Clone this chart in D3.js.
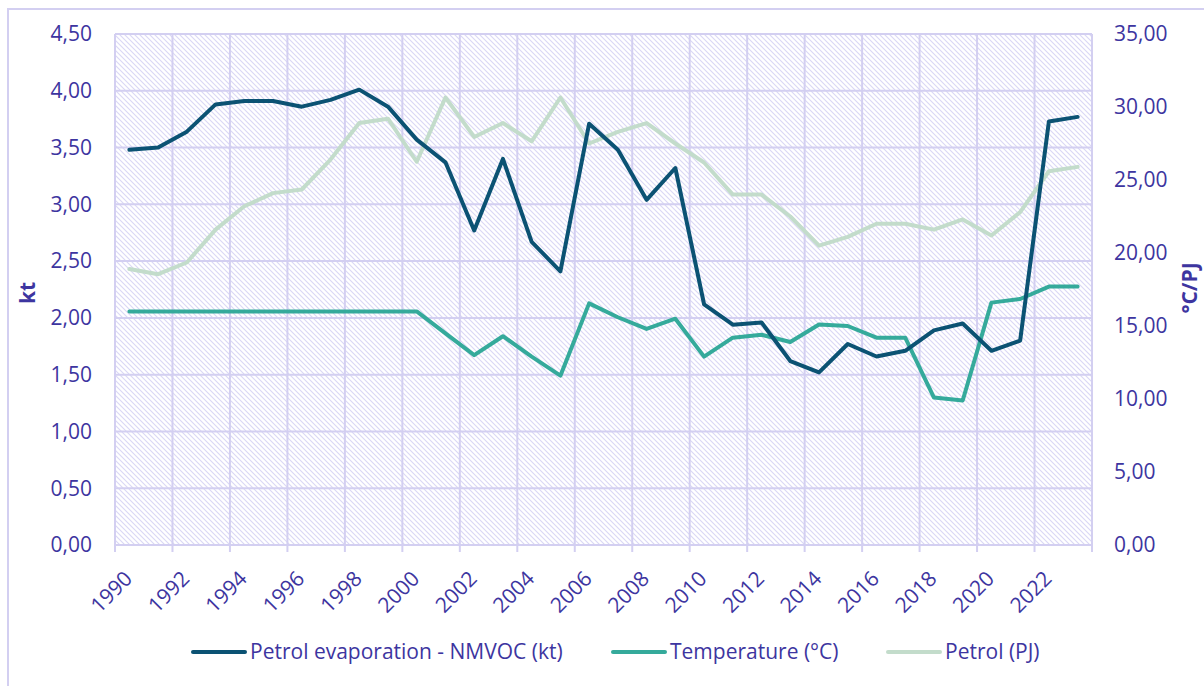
<!DOCTYPE html>
<html>
<head>
<meta charset="utf-8">
<script src="https://cdn.jsdelivr.net/npm/d3@7"></script>
<style>
  html, body { margin: 0; padding: 0; background: #fff; }
  svg { display: block; font-family: "Open Sans", "Noto Sans", sans-serif; }
</style>
</head>
<body>
<div id="chart"></div>
<script>
const years = d3.range(1990, 2024);
const evaporation = [3.48, 3.50, 3.64, 3.88, 3.91, 3.91, 3.86, 3.92, 4.01, 3.86,
  3.57, 3.37, 2.77, 3.40, 2.67, 2.41, 3.71, 3.48, 3.04, 3.32,
  2.12, 1.94, 1.96, 1.62, 1.52, 1.77, 1.66, 1.71, 1.89, 1.95,
  1.71, 1.80, 3.73, 3.77];
const temperature = [16.0, 16.0, 16.0, 16.0, 16.0, 16.0, 16.0, 16.0, 16.0, 16.0,
  16.0, 14.5, 13.0, 14.3, 12.9, 11.6, 16.55, 15.6, 14.8, 15.5,
  12.9, 14.2, 14.4, 13.9, 15.1, 15.0, 14.2, 14.2, 10.1, 9.9,
  16.6, 16.85, 17.7, 17.7];
const petrol = [18.9, 18.55, 19.35, 21.6, 23.2, 24.1, 24.35, 26.4, 28.9, 29.2,
  26.25, 30.65, 27.95, 28.9, 27.65, 30.65, 27.5, 28.3, 28.9, 27.5,
  26.2, 24.0, 24.0, 22.5, 20.5, 21.1, 22.0, 22.0, 21.6, 22.3,
  21.2, 22.8, 25.6, 25.9];
const leftTicks = d3.range(0, 4.51, 0.5);
const rightTicks = d3.range(0, 35.01, 5);
const seriesNames = ["Petrol evaporation - NMVOC (kt)", "Temperature (°C)", "Petrol (PJ)"];
const seriesColors = ["#0b5273", "#35aa9b", "#c3dccb"];

const width = 1204, height = 686;
const plot = { left: 115, right: 1092, top: 34, bottom: 545 };
const textColor = "#3d35a0";
const gridColor = "#d3cff1";
const fontSize = 21;
const fmt = v => d3.format(".2f")(v).replace(".", ",");

const svg = d3.select("#chart").append("svg")
  .attr("width", width).attr("height", height);

// hatch pattern for plot background
const defs = svg.append("defs");
const pat = defs.append("pattern")
  .attr("id", "hatch").attr("patternUnits", "userSpaceOnUse")
  .attr("width", 5).attr("height", 5);
pat.append("rect").attr("width", 5).attr("height", 5).attr("fill", "#fff");
pat.append("path")
  .attr("d", "M0,0 L5,5 M-1,4 L1,6 M4,-1 L6,1")
  .attr("stroke", "#dad7f5").attr("stroke-width", 1.1);

// outer frame
svg.append("rect")
  .attr("x", 8).attr("y", 9)
  .attr("width", width + 10).attr("height", height + 10)
  .attr("fill", "none").attr("stroke", "#d3cff1").attr("stroke-width", 2);

const x = d3.scaleBand().domain(years).range([plot.left, plot.right]).paddingInner(0).paddingOuter(0);
const cx = d => x(d) + x.bandwidth() / 2;
const yL = d3.scaleLinear().domain([0, 4.5]).range([plot.bottom, plot.top]);
const yR = d3.scaleLinear().domain([0, 35]).range([plot.bottom, plot.top]);

svg.append("rect")
  .attr("x", plot.left).attr("y", plot.top)
  .attr("width", plot.right - plot.left).attr("height", plot.bottom - plot.top)
  .attr("fill", "url(#hatch)");

// horizontal grid
svg.append("g").selectAll("line").data(leftTicks).join("line")
  .attr("x1", plot.left).attr("x2", plot.right)
  .attr("y1", d => yL(d)).attr("y2", d => yL(d))
  .attr("stroke", gridColor).attr("stroke-width", 2);

// vertical grid + tick marks
const vlines = years.filter(y => (y - 1990) % 2 === 0).map(y => x(y)).concat([plot.right]);
svg.append("g").selectAll("line").data(vlines).join("line")
  .attr("x1", d => d).attr("x2", d => d)
  .attr("y1", plot.top).attr("y2", plot.bottom + 7)
  .attr("stroke", gridColor).attr("stroke-width", 2);

// left axis labels
svg.append("g").selectAll("text").data(leftTicks).join("text")
  .attr("x", 92).attr("y", d => yL(d))
  .attr("dy", "0.35em").attr("text-anchor", "end")
  .attr("fill", textColor).attr("font-size", fontSize)
  .text(fmt);

// right axis labels
svg.append("g").selectAll("text").data(rightTicks).join("text")
  .attr("x", 1114).attr("y", d => yR(d))
  .attr("dy", "0.35em").attr("text-anchor", "start")
  .attr("fill", textColor).attr("font-size", fontSize)
  .text(fmt);

// x labels
svg.append("g").selectAll("text").data(years.filter(y => (y - 1990) % 2 === 0)).join("text")
  .attr("transform", d => `translate(${cx(d) + 4},580) rotate(-45)`)
  .attr("text-anchor", "end")
  .attr("fill", textColor).attr("font-size", fontSize)
  .text(d => d);

// axis titles
svg.append("text")
  .attr("transform", `translate(35,293) rotate(-90)`)
  .attr("text-anchor", "middle").attr("font-weight", "bold")
  .attr("fill", textColor).attr("font-size", fontSize).text("kt");
svg.append("text")
  .attr("transform", `translate(1197,288) rotate(-90)`)
  .attr("text-anchor", "middle").attr("font-weight", "bold")
  .attr("fill", textColor).attr("font-size", fontSize).text("°C/PJ");

// lines (petrol first, evaporation on top)
const lineL = d3.line().x((d, i) => cx(years[i])).y(d => yL(d));
const lineR = d3.line().x((d, i) => cx(years[i])).y(d => yR(d));

svg.append("path").datum(petrol).attr("d", lineR)
  .attr("fill", "none").attr("stroke", seriesColors[2]).attr("stroke-width", 4)
  .attr("stroke-linejoin", "round").attr("stroke-linecap", "round");
svg.append("path").datum(temperature).attr("d", lineR)
  .attr("fill", "none").attr("stroke", seriesColors[1]).attr("stroke-width", 4)
  .attr("stroke-linejoin", "round").attr("stroke-linecap", "round");
svg.append("path").datum(evaporation).attr("d", lineL)
  .attr("fill", "none").attr("stroke", seriesColors[0]).attr("stroke-width", 4)
  .attr("stroke-linejoin", "round").attr("stroke-linecap", "round");

// legend
const legendX = [193, 613, 888];
const lg = svg.append("g").selectAll("g").data(seriesNames).join("g")
  .attr("transform", (d, i) => `translate(${legendX[i]},652)`);
lg.append("line").attr("x1", 0).attr("x2", 52)
  .attr("stroke", (d, i) => seriesColors[i]).attr("stroke-width", 4).attr("stroke-linecap", "round");
lg.append("text").attr("x", 57).attr("dy", "0.35em")
  .attr("fill", textColor).attr("font-size", fontSize)
  .text(d => d);
</script>
</body>
</html>
